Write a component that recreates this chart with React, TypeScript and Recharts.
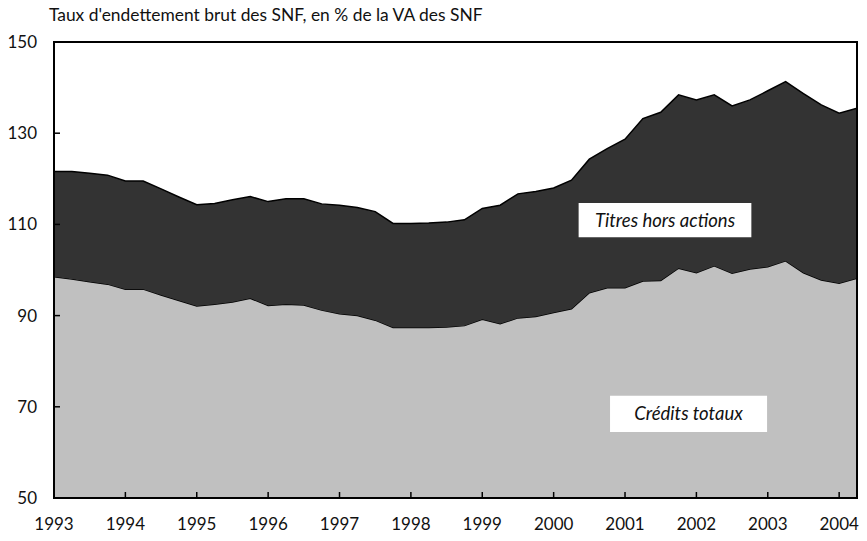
import React from 'react';
import { AreaChart, Area, XAxis, YAxis, ReferenceArea } from 'recharts';

const quarters = [
  '1993T1', '1993T2', '1993T3', '1993T4', '1994T1', '1994T2', '1994T3', '1994T4',
  '1995T1', '1995T2', '1995T3', '1995T4', '1996T1', '1996T2', '1996T3', '1996T4',
  '1997T1', '1997T2', '1997T3', '1997T4', '1998T1', '1998T2', '1998T3', '1998T4',
  '1999T1', '1999T2', '1999T3', '1999T4', '2000T1', '2000T2', '2000T3', '2000T4',
  '2001T1', '2001T2', '2001T3', '2001T4', '2002T1', '2002T2', '2002T3', '2002T4',
  '2003T1', '2003T2', '2003T3', '2003T4', '2004T1', '2004T2',
];

// crédits totaux (bas de la pile)
const credits = [
  98.5, 98.0, 97.4, 96.9, 95.8, 95.8, 94.5, 93.3, 92.1, 92.5, 93.0, 93.8,
  92.2, 92.5, 92.3, 91.2, 90.4, 90.0, 89.0, 87.4, 87.4, 87.4, 87.5, 87.8,
  89.2, 88.2, 89.5, 89.8, 90.7, 91.5, 95.0, 96.1, 96.1, 97.6, 97.7, 100.4,
  99.4, 100.9, 99.3, 100.2, 100.7, 102.0, 99.4, 97.8, 97.1, 98.2,
];

// titres hors actions (empilés au-dessus)
const titres = [
  23.1, 23.6, 23.8, 23.9, 23.7, 23.7, 23.3, 22.7, 22.2, 22.1, 22.4, 22.3,
  22.8, 23.1, 23.3, 23.3, 23.8, 23.7, 23.8, 22.8, 22.8, 22.9, 23.0, 23.2,
  24.3, 26.0, 27.2, 27.4, 27.3, 28.2, 29.3, 30.5, 32.6, 35.6, 36.9, 38.0,
  37.9, 37.5, 36.7, 37.1, 38.6, 39.3, 39.3, 38.4, 37.3, 37.3,
];

const yearTicks = [1993, 1994, 1995, 1996, 1997, 1998, 1999, 2000, 2001, 2002, 2003, 2004];
const valueTicks = [50, 70, 90, 110, 130, 150];

const FONT = 'Lato, "Open Sans", sans-serif';

const data = quarters.map((q, i) => ({
  t: Number(q.slice(0, 4)) + (Number(q.slice(5)) - 1) / 4,
  credits: credits[i],
  titres: titres[i],
}));

const App: React.FC = () => {
  return (
    <div style={{ position: 'absolute', left: 0, top: 0, width: 867, height: 541, background: '#fff', fontFamily: FONT }}>
      <div style={{ position: 'absolute', left: 49, top: 4, fontSize: 17.4, lineHeight: '22px', color: '#111', whiteSpace: 'nowrap' }}>
        Taux d'endettement brut des SNF, en % de la VA des SNF
      </div>
      <AreaChart width={867} height={541} data={data} margin={{ top: 42, right: 10, bottom: 0, left: 0 }}>
        <XAxis
          dataKey="t"
          type="number"
          domain={[1993, 2004.25]}
          ticks={yearTicks}
          allowDataOverflow
          height={43}
          tickSize={-6}
          tickMargin={26}
          axisLine={{ stroke: '#000', strokeWidth: 2 }}
          tickLine={{ stroke: '#000', strokeWidth: 1.5 }}
          tick={{ fill: '#111', fontSize: 17, fontFamily: FONT }}
        />
        <YAxis
          type="number"
          domain={[50, 150]}
          ticks={valueTicks}
          allowDataOverflow
          width={54}
          tickSize={-6}
          tickMargin={23}
          axisLine={{ stroke: '#000', strokeWidth: 2 }}
          tickLine={{ stroke: '#000', strokeWidth: 1.5 }}
          tick={{ fill: '#111', fontSize: 17, fontFamily: FONT }}
        />
        <Area
          type="linear"
          dataKey="credits"
          stackId="a"
          fill="#c0c0c0"
          fillOpacity={1}
          stroke="#000"
          strokeWidth={1.5}
          isAnimationActive={false}
        />
        <Area
          type="linear"
          dataKey="titres"
          stackId="a"
          fill="#333333"
          fillOpacity={1}
          stroke="#000"
          strokeWidth={1.5}
          isAnimationActive={false}
        />
        <ReferenceArea
          x1={1993}
          x2={2004.25}
          y1={50}
          y2={150}
          fill="none"
          stroke="#000"
          strokeWidth={2}
        />
        <ReferenceArea
          x1={2000.35}
          x2={2002.77}
          y1={107.2}
          y2={114.7}
          fill="#fff"
          fillOpacity={1}
          stroke="none"
          label={{ value: 'Titres hors actions', position: 'center', fill: '#111', fontSize: 18.5, fontStyle: 'italic', fontFamily: FONT }}
        />
        <ReferenceArea
          x1={2000.79}
          x2={2002.99}
          y1={64.5}
          y2={72.4}
          fill="#fff"
          fillOpacity={1}
          stroke="none"
          label={{ value: 'Crédits totaux', position: 'center', fill: '#111', fontSize: 18.5, fontStyle: 'italic', fontFamily: FONT }}
        />
      </AreaChart>
    </div>
  );
};

export default App;
